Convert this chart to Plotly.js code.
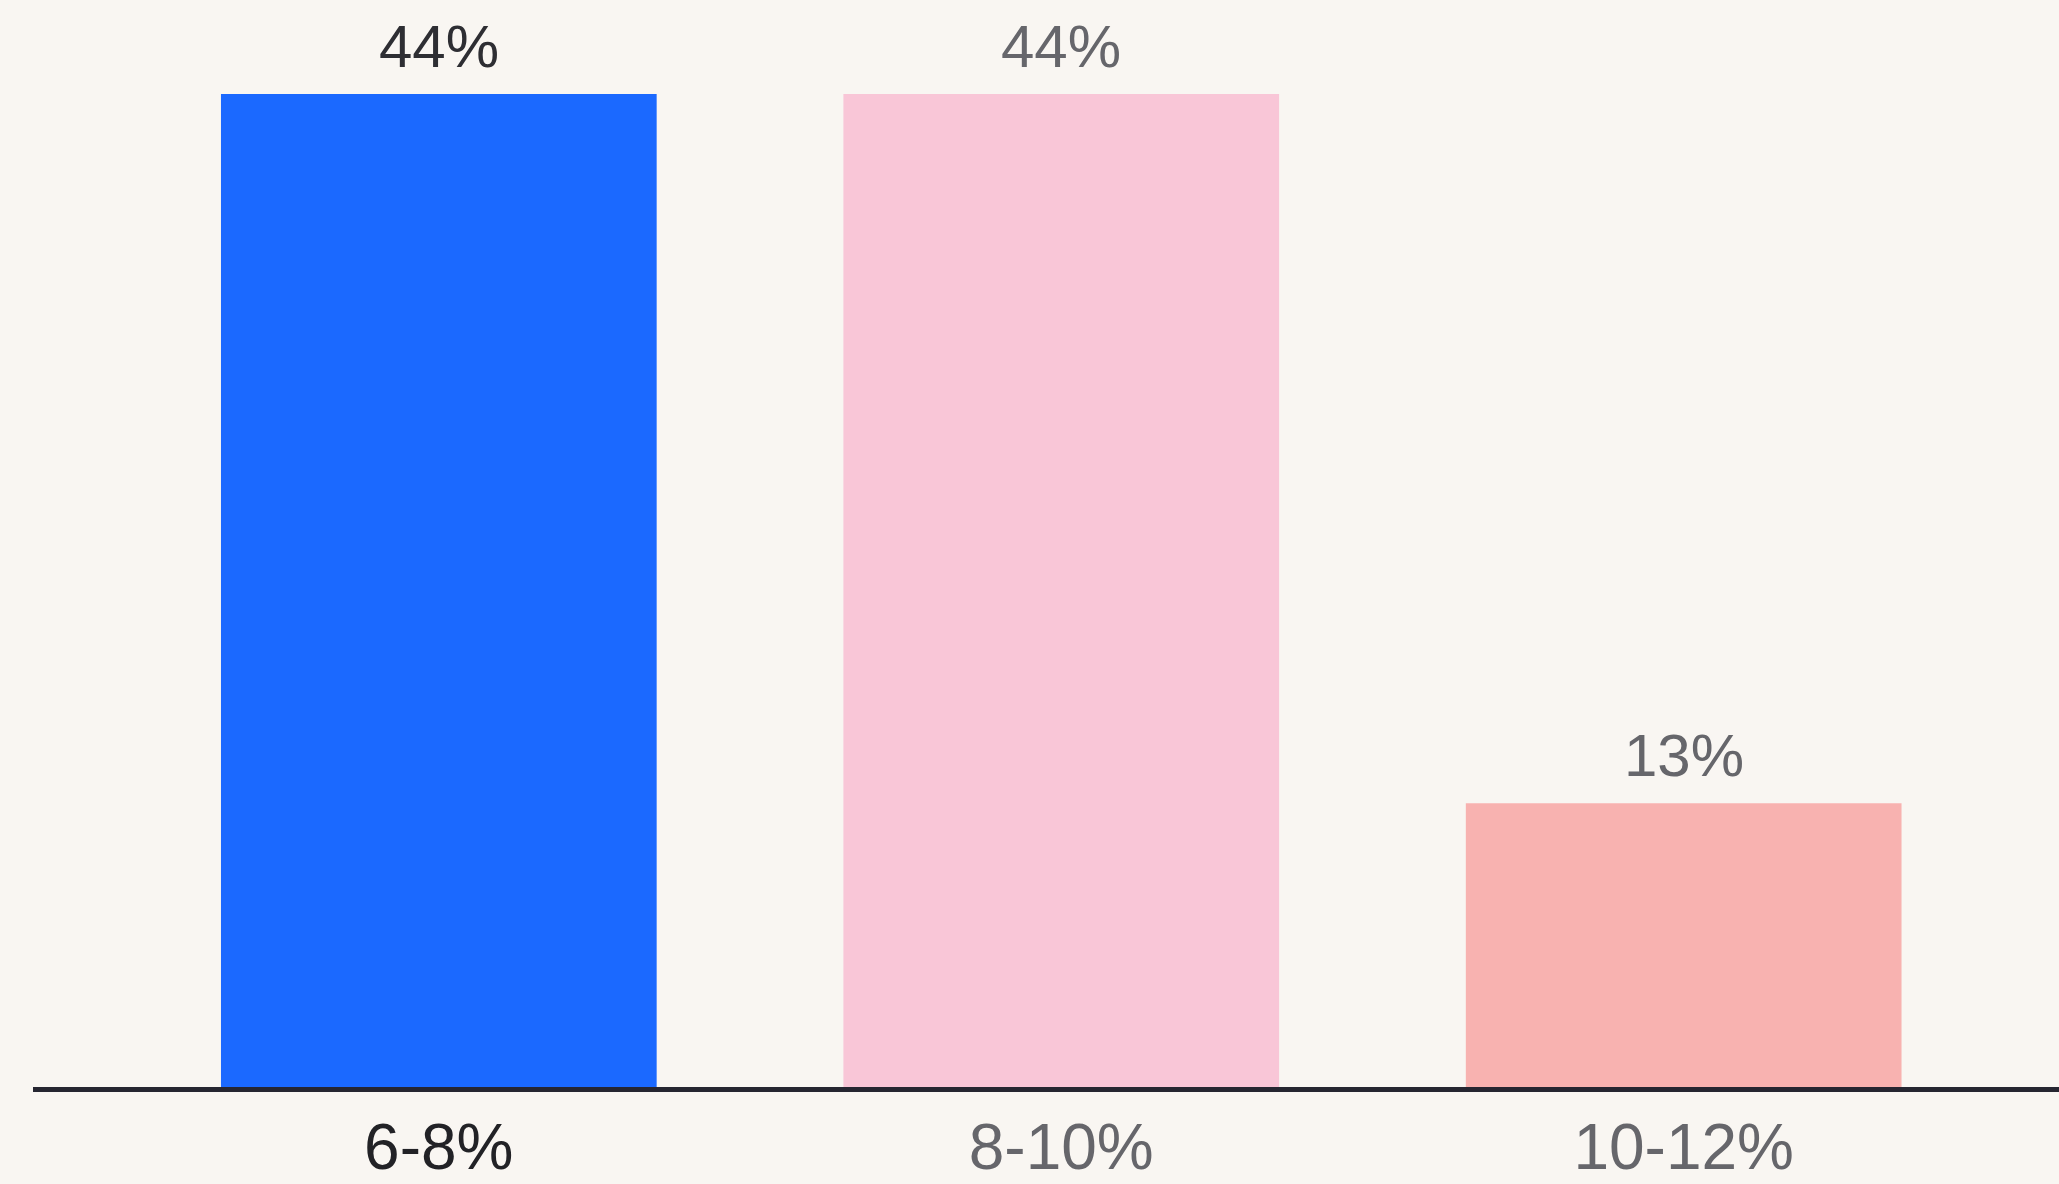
<!DOCTYPE html>
<html>
<head>
<meta charset="utf-8">
<script src="https://cdn.plot.ly/plotly-3.0.1.min.js"></script>
<style>
html,body{margin:0;padding:0;background:#f9f6f2;}
#chart{width:2059px;height:1184px;}
</style>
</head>
<body>
<div id="chart"></div>
<script>
const categories = ['6-8%', '8-10%', '10-12%'];
const shares = [43.75, 43.75, 12.5];
const barColors = ['#1b69ff', '#f9c6d7', '#f8b2b0'];
const valueTextColors = ['#2e2e33', '#66666b', '#66666b'];
const tickColors = ['#222226', '#66666b', '#66666b'];

const FONT = 'Liberation Sans, Arial, sans-serif';
const tickText = categories.map((c, i) => '<span style="color:' + tickColors[i] + '">' + c + '</span>');

const trace = {
  type: 'bar',
  x: categories,
  y: shares,
  marker: {color: barColors, line: {width: 0}},
  width: 0.7,
  hoverinfo: 'none'
};

const valueLabels = categories.map((c, i) => ({
  x: c,
  y: shares[i],
  xref: 'x',
  yref: 'y',
  text: Math.round(shares[i]) + '%',
  showarrow: false,
  yanchor: 'bottom',
  yshift: 12,
  font: {family: FONT, size: 60, color: valueTextColors[i]}
}));

const layout = {
  width: 2059,
  height: 1184,
  margin: {l: 33, r: 0, t: 0, b: 97},
  paper_bgcolor: '#f9f6f2',
  plot_bgcolor: 'rgba(0,0,0,0)',
  showlegend: false,
  xaxis: {
    type: 'category',
    range: [-0.652, 2.603],
    tickvals: categories,
    ticktext: tickText,
    tickfont: {family: FONT, size: 64, color: '#66666b'},
    showline: true,
    linecolor: '#262631',
    linewidth: 5,
    showgrid: false,
    zeroline: false,
    ticks: '',
    ticklabelstandoff: 0
  },
  yaxis: {
    range: [0, 47.89],
    visible: false,
    showgrid: false,
    zeroline: false,
    fixedrange: true
  },
  annotations: valueLabels
};

Plotly.newPlot('chart', [trace], layout, {staticPlot: true, displayModeBar: false});
</script>
</body>
</html>
